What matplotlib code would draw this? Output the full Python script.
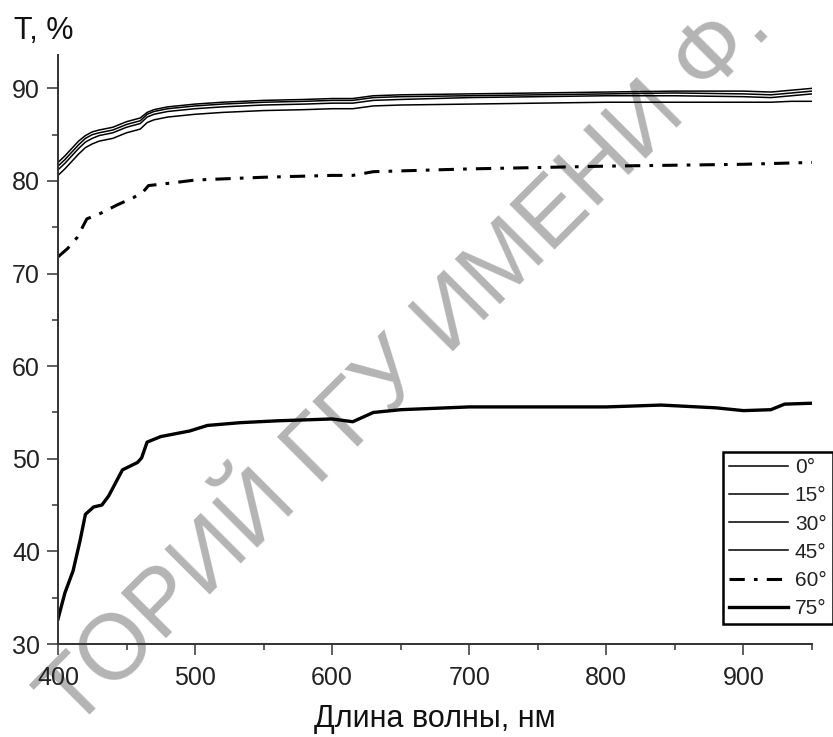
import matplotlib
matplotlib.use('Agg')
import matplotlib.pyplot as plt
import matplotlib.ticker as tck

plt.rcParams['font.family'] = ['Liberation Sans', 'DejaVu Sans']

# top group (0..45 degrees) shares one wavelength grid
wl_top = [400, 405, 410, 415, 420, 425, 430, 440, 450, 460, 465, 470, 480,
          500, 520, 550, 580, 600, 615, 630, 650, 700, 750, 800, 850, 900,
          920, 935, 950]
t_0 = [82.0, 82.7, 83.5, 84.3, 84.9, 85.3, 85.5, 85.8, 86.4, 86.8, 87.4,
       87.7, 88.0, 88.3, 88.5, 88.7, 88.8, 88.9, 88.9, 89.2, 89.3, 89.4,
       89.5, 89.6, 89.7, 89.7, 89.6, 89.8, 90.0]
t_15 = [81.6, 82.3, 83.1, 83.9, 84.6, 85.0, 85.2, 85.5, 86.1, 86.5, 87.2,
        87.5, 87.8, 88.1, 88.3, 88.5, 88.6, 88.7, 88.7, 89.0, 89.1, 89.2,
        89.3, 89.4, 89.5, 89.4, 89.3, 89.5, 89.7]
t_30 = [81.2, 81.9, 82.7, 83.5, 84.2, 84.6, 84.9, 85.2, 85.8, 86.2, 86.9,
        87.2, 87.5, 87.8, 88.0, 88.2, 88.3, 88.4, 88.4, 88.7, 88.8, 89.0,
        89.1, 89.2, 89.2, 89.1, 89.0, 89.2, 89.4]
t_45 = [80.6, 81.3, 82.1, 82.9, 83.6, 84.0, 84.3, 84.6, 85.2, 85.6, 86.3,
        86.6, 86.9, 87.2, 87.4, 87.6, 87.7, 87.8, 87.8, 88.1, 88.2, 88.3,
        88.4, 88.5, 88.5, 88.5, 88.5, 88.6, 88.6]

wl_60 = [400, 407, 414, 421, 431, 443, 455, 462, 466, 484, 500, 550, 600,
         615, 630, 700, 800, 900, 950]
t_60 = [71.8, 72.7, 73.9, 75.9, 76.5, 77.4, 78.2, 78.8, 79.5, 79.8, 80.1,
        80.4, 80.6, 80.6, 81.0, 81.3, 81.6, 81.8, 82.0]

wl_75 = [400, 405, 411, 416, 420, 426, 432, 437, 447, 458, 461, 465, 475,
         496, 509, 533, 560, 600, 615, 630, 650, 700, 750, 800, 840, 880,
         900, 920, 930, 950]
t_75 = [32.7, 35.5, 37.9, 41.1, 44.0, 44.8, 45.0, 46.0, 48.8, 49.6, 50.1,
        51.8, 52.4, 53.0, 53.6, 53.9, 54.1, 54.3, 54.0, 55.0, 55.3, 55.6,
        55.6, 55.6, 55.8, 55.5, 55.2, 55.3, 55.9, 56.0]

W, H = 833, 737
fig = plt.figure(figsize=(W / 100, H / 100), dpi=100)
ax = fig.add_axes([58 / W, 1 - 644 / H, (812 - 58) / W, (644 - 55) / H])

ax.plot(wl_top, t_0, color='k', lw=1.1, label='0°')
ax.plot(wl_top, t_15, color='k', lw=1.1, label='15°')
ax.plot(wl_top, t_30, color='k', lw=1.1, label='30°')
ax.plot(wl_top, t_45, color='k', lw=1.1, label='45°')
ax.plot(wl_60, t_60, color='k', lw=2.2, dashes=(5, 3, 1.2, 3), label='60°')
ax.plot(wl_75, t_75, color='k', lw=2.4, label='75°')

ax.set_xlim(400, 950)
ax.set_ylim(30, 93.6)
ax.xaxis.set_major_locator(tck.MultipleLocator(100))
ax.xaxis.set_minor_locator(tck.MultipleLocator(50))
ax.yaxis.set_major_locator(tck.MultipleLocator(10))
ax.yaxis.set_minor_locator(tck.MultipleLocator(5))
for side in ('top', 'right'):
    ax.spines[side].set_visible(False)
for side in ('left', 'bottom'):
    ax.spines[side].set_linewidth(1.4)
    ax.spines[side].set_color('#333333')
ax.tick_params(which='major', length=8, width=1.1, color='#333333',
               labelsize=18, labelcolor='#222222')
ax.tick_params(which='minor', length=4, width=1.1, color='#333333')
ax.tick_params(axis='x', which='major', pad=8)
ax.tick_params(axis='y', which='major', pad=5)

ax.set_xlabel('Длина волны, нм', fontsize=22, color='#111111', labelpad=10)
fig.text(14 / W, 1 - 31 / H, 'T, %', fontsize=22, color='#111111',
         va='center', ha='left')

leg = ax.legend(loc='upper left', bbox_to_anchor=(723 / W, 1 - 452 / H),
                bbox_transform=fig.transFigure, fontsize=15, frameon=True,
                fancybox=False, framealpha=1, edgecolor='k',
                handlelength=2.8, handletextpad=0.35, labelspacing=0.44,
                borderpad=0.3, borderaxespad=0)
leg.get_frame().set_linewidth(1.8)
for t in leg.get_texts():
    t.set_color('#222222')

# repository watermark, cut by the figure edges as in the source
ax.text(424 / W, 1 - 381 / H, 'ТОРИЙ ГГУ ИМЕНИ Ф.', transform=fig.transFigure,
        fontsize=66.7, color='#b4b4b4', rotation=45, rotation_mode='anchor',
        ha='center', va='baseline', clip_on=False, zorder=1)

fig.savefig('out.png', dpi=100)
